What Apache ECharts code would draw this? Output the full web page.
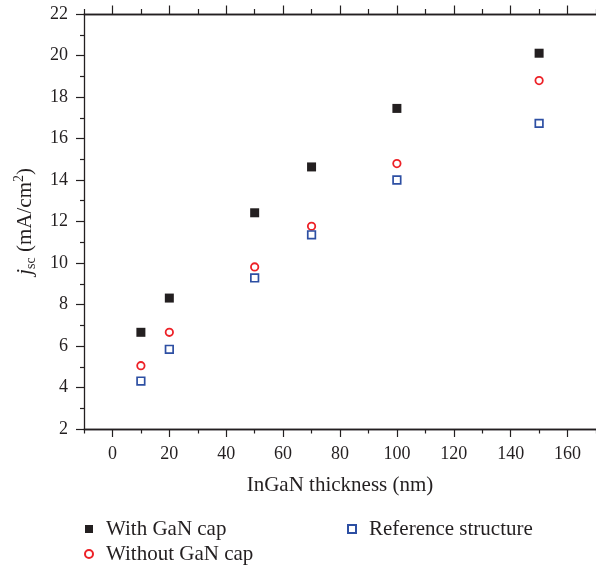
<!DOCTYPE html>
<html>
<head>
<meta charset="utf-8">
<script src="https://cdn.jsdelivr.net/npm/echarts@6/dist/echarts.min.js"></script>
<style>
  html, body { margin: 0; padding: 0; background: #fff; }
  #chart { width: 596px; height: 569px; }
</style>
</head>
<body>
<div id="chart"></div>
<script>
// thickness (nm)
let thickness = [10, 20, 50, 70, 100, 150];
// jsc (mA/cm2)
let withCap = [6.66, 8.31, 12.42, 14.63, 17.45, 20.11];
let withoutCap = [5.05, 6.66, 9.81, 11.77, 14.79, 18.79];
let reference = [4.31, 5.84, 9.28, 11.36, 14.0, 16.73];

let xMajorTicks = [0, 20, 40, 60, 80, 100, 120, 140, 160];
let xMinorTicks = [-10, 10, 30, 50, 70, 90, 110, 130, 150, 170];

let ink = '#231f20';
let font = 'Liberation Serif';

function pairs(ys) {
  return thickness.map((x, i) => [x, ys[i]]);
}

// one x axis; major or minor ticks, bottom or top
function xAxis(position, ticks, len, labels) {
  return {
    type: 'value',
    position: position,
    min: -10,
    max: 170,
    interval: 10,
    splitLine: {show: false},
    axisLine: {show: true, onZero: false, lineStyle: {color: ink, width: 1.3}},
    axisTick: {show: true, customValues: ticks, length: len, lineStyle: {color: ink, width: 1.2}},
    axisLabel: labels ? {
      show: true, customValues: xMajorTicks, margin: 16,
      color: ink, fontFamily: font, fontSize: 18
    } : {show: false}
  };
}

let chart = echarts.init(document.getElementById('chart'));

let bottomMajor = xAxis('bottom', xMajorTicks, 8, true);
bottomMajor.name = 'InGaN thickness (nm)';
bottomMajor.nameLocation = 'middle';
bottomMajor.nameGap = 46;
bottomMajor.nameTextStyle = {color: ink, fontFamily: font, fontSize: 21};

// icon 8px, text starts 21px after icon's left edge
let legendText = {color: ink, fontFamily: font, fontSize: 21, lineHeight: 22, padding: [0, 0, 0, 8]};

chart.setOption({
  animation: false,
  grid: {left: 84, right: 0, top: 14, bottom: 140},
  xAxis: [
    bottomMajor,
    xAxis('bottom', xMinorTicks, 4.5, false),
    xAxis('top', xMajorTicks, 8.5, false),
    xAxis('top', xMinorTicks, 5, false)
  ],
  yAxis: {
    type: 'value',
    min: 2,
    max: 22,
    interval: 2,
    splitLine: {show: false},
    axisLine: {show: true, onZero: false, lineStyle: {color: ink, width: 1.3}},
    axisTick: {show: true, length: 8, lineStyle: {color: ink, width: 1.2}},
    minorTick: {show: true, splitNumber: 2, length: 4, lineStyle: {color: ink, width: 1.2}},
    axisLabel: {margin: 16, color: ink, fontFamily: font, fontSize: 18},
    name: '{i|j}{sub|sc} (mA/cm{sup|2})',
    nameLocation: 'middle',
    nameGap: 46,
    nameTextStyle: {
      color: ink, fontFamily: font, fontSize: 21, lineHeight: 26,
      rich: {
        i: {fontStyle: 'italic', fontFamily: font, fontSize: 22, color: ink, lineHeight: 26},
        sub: {fontFamily: font, fontSize: 14, color: ink, verticalAlign: 'bottom', lineHeight: 14},
        sup: {fontFamily: font, fontSize: 14, color: ink, verticalAlign: 'top', lineHeight: 14}
      }
    }
  },
  legend: [
    {
      data: ['With GaN cap', 'Without GaN cap'],
      orient: 'vertical',
      left: 84,
      top: 518,
      padding: 0,
      itemGap: 3,
      itemWidth: 8,
      itemHeight: 8,
      textStyle: legendText
    },
    {
      data: ['Reference structure'],
      orient: 'vertical',
      left: 347,
      top: 518,
      padding: 0,
      itemWidth: 8,
      itemHeight: 8,
      textStyle: legendText
    }
  ],
  series: [
    {
      name: 'With GaN cap',
      type: 'scatter',
      symbol: 'rect',
      symbolSize: 9,
      itemStyle: {color: ink, opacity: 1},
      data: pairs(withCap)
    },
    {
      name: 'Without GaN cap',
      type: 'scatter',
      symbol: 'circle',
      symbolSize: 7.4,
      itemStyle: {color: '#fff', borderColor: '#ed2127', borderWidth: 1.8, opacity: 1},
      data: pairs(withoutCap)
    },
    {
      name: 'Reference structure',
      type: 'scatter',
      symbol: 'rect',
      symbolSize: 7.6,
      itemStyle: {color: '#fff', borderColor: '#2d4fa3', borderWidth: 1.7, opacity: 1},
      data: pairs(reference)
    }
  ]
});
</script>
</body>
</html>
